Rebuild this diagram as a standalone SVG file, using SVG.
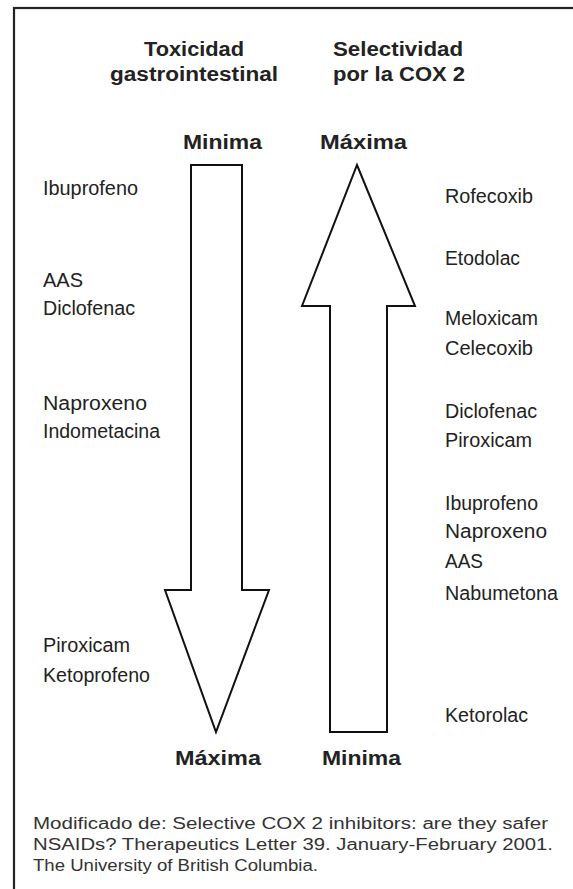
<svg xmlns="http://www.w3.org/2000/svg" width="573" height="889" viewBox="0 0 573 889">
<style>
text{font-family:"Liberation Sans",Arial,sans-serif;fill:#222;}
.t{font-weight:bold;font-size:20px;}
.l{font-size:20px;}
.f{font-size:16px;fill:#333;}
.arrow{fill:#fff;stroke:#111;stroke-width:2;stroke-linejoin:miter;}
</style>
<rect x="0" y="0" width="573" height="889" fill="#fff"/>
<rect x="14" y="8" width="580" height="900" fill="none" stroke="#222" stroke-width="2.2"/>
<g id="titles">
<text class="t" x="194" y="56" text-anchor="middle" textLength="100" lengthAdjust="spacingAndGlyphs">Toxicidad</text>
<text class="t" x="194" y="81" text-anchor="middle" textLength="168" lengthAdjust="spacingAndGlyphs">gastrointestinal</text>
<text class="t" x="398" y="56" text-anchor="middle" textLength="130" lengthAdjust="spacingAndGlyphs">Selectividad</text>
<text class="t" x="399" y="81" text-anchor="middle" textLength="132" lengthAdjust="spacingAndGlyphs">por la COX 2</text>
</g>
<g id="connectors">
<polygon id="arrow-down" class="arrow" points="191,165 242,165 242,590 269,590 216,732 165,590 191,590"/>
<polygon id="arrow-up" class="arrow" points="357,165 415,306 387,306 387,732 330,732 330,306 302,306"/>
</g>
<g id="scale-labels">
<text class="t" x="183" y="149" textLength="79" lengthAdjust="spacingAndGlyphs">Minima</text>
<text class="t" x="320" y="149" textLength="87" lengthAdjust="spacingAndGlyphs">Máxima</text>
<text class="t" x="175" y="765" textLength="86" lengthAdjust="spacingAndGlyphs">Máxima</text>
<text class="t" x="322" y="765" textLength="79" lengthAdjust="spacingAndGlyphs">Minima</text>
</g>
<g id="left-labels">
<text class="l" x="43" y="195" textLength="95" lengthAdjust="spacingAndGlyphs">Ibuprofeno</text>
<text class="l" x="43" y="287" textLength="40" lengthAdjust="spacingAndGlyphs">AAS</text>
<text class="l" x="43" y="315" textLength="92" lengthAdjust="spacingAndGlyphs">Diclofenac</text>
<text class="l" x="43" y="410" textLength="104" lengthAdjust="spacingAndGlyphs">Naproxeno</text>
<text class="l" x="43" y="438" textLength="117" lengthAdjust="spacingAndGlyphs">Indometacina</text>
<text class="l" x="43" y="652" textLength="87" lengthAdjust="spacingAndGlyphs">Piroxicam</text>
<text class="l" x="43" y="682" textLength="107" lengthAdjust="spacingAndGlyphs">Ketoprofeno</text>
</g>
<g id="right-labels">
<text class="l" x="445" y="203" textLength="88" lengthAdjust="spacingAndGlyphs">Rofecoxib</text>
<text class="l" x="445" y="265" textLength="75" lengthAdjust="spacingAndGlyphs">Etodolac</text>
<text class="l" x="445" y="325" textLength="93" lengthAdjust="spacingAndGlyphs">Meloxicam</text>
<text class="l" x="445" y="355" textLength="88" lengthAdjust="spacingAndGlyphs">Celecoxib</text>
<text class="l" x="445" y="418" textLength="92" lengthAdjust="spacingAndGlyphs">Diclofenac</text>
<text class="l" x="445" y="447" textLength="87" lengthAdjust="spacingAndGlyphs">Piroxicam</text>
<text class="l" x="445" y="510" textLength="93" lengthAdjust="spacingAndGlyphs">Ibuprofeno</text>
<text class="l" x="445" y="538" textLength="102" lengthAdjust="spacingAndGlyphs">Naproxeno</text>
<text class="l" x="445" y="568" textLength="38" lengthAdjust="spacingAndGlyphs">AAS</text>
<text class="l" x="445" y="600" textLength="113" lengthAdjust="spacingAndGlyphs">Nabumetona</text>
<text class="l" x="445" y="722" textLength="83" lengthAdjust="spacingAndGlyphs">Ketorolac</text>
</g>
<g id="footer">
<text class="f" x="33" y="829" textLength="515" lengthAdjust="spacingAndGlyphs">Modificado de: Selective COX 2 inhibitors: are they safer</text>
<text class="f" x="33" y="850" textLength="520" lengthAdjust="spacingAndGlyphs">NSAIDs? Therapeutics Letter 39. January-February 2001.</text>
<text class="f" x="33" y="871" textLength="285" lengthAdjust="spacingAndGlyphs">The University of British Columbia.</text>
</g>
</svg>
